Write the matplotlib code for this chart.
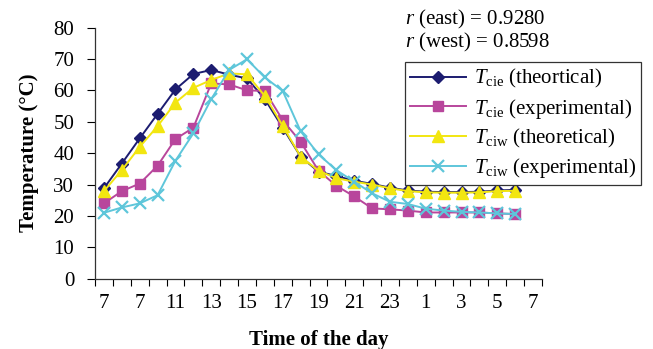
import numpy as np
import matplotlib
matplotlib.use("Agg")
import matplotlib.pyplot as plt

plt.rcParams['font.family'] = ['Liberation Serif', 'DejaVu Serif']
plt.rcParams['mathtext.fontset'] = 'custom'
plt.rcParams['mathtext.rm'] = 'Liberation Serif'
plt.rcParams['mathtext.it'] = 'Liberation Serif:italic'

# x tick labels (every other hour, as printed in the original)
tick_labels = ['7', '7', '11', '13', '15', '17', '19', '21', '23', '1', '3', '5', '7']

# hourly temperatures, 7:00 -> 6:00 next day
t_cie_theo = [28.8, 36.7, 44.7, 52.5, 60.3, 65.2, 66.5, 65.0, 63.8, 57.2, 48.1, 38.9,
              34.1, 32.7, 31.2, 30.2, 29.0, 28.1, 27.7, 27.6, 27.6, 27.7, 28.1, 28.3]
t_cie_exp = [24.0, 27.9, 30.3, 36.0, 44.5, 48.1, 62.2, 61.9, 60.0, 59.8, 50.5, 43.6,
             34.4, 29.6, 26.2, 22.4, 22.1, 21.7, 21.1, 21.1, 21.1, 21.1, 20.8, 20.6]
t_ciw_theo = [27.9, 34.6, 42.0, 48.6, 56.1, 60.8, 63.3, 65.4, 65.1, 58.2, 48.7, 38.9,
              34.4, 32.0, 30.9, 30.0, 28.8, 27.9, 27.5, 27.4, 27.4, 27.5, 27.9, 28.0]
t_ciw_exp = [21.0, 22.7, 24.0, 26.6, 37.6, 46.3, 57.2, 66.5, 69.9, 64.1, 59.8, 47.0,
             39.6, 34.6, 30.9, 27.2, 24.5, 23.8, 22.3, 21.7, 21.3, 21.1, 20.8, 20.6]

x = np.arange(len(t_cie_theo)) + 0.5
fs = 15

fig = plt.figure(figsize=(6.53, 3.49), dpi=100)
ax = fig.add_axes([0.1455, 0.2014, 0.6845, 0.7196])

ax.plot(x, t_cie_theo, color='#1c1c70', marker='D', ms=6, lw=1.4,
        label=r'$T_{\rm cie}$ (theortical)')
ax.plot(x, t_cie_exp, color='#b8469c', marker='s', ms=7, lw=1.4,
        label=r'$T_{\rm cie}$ (experimental)')
ax.plot(x, t_ciw_theo, color='#f2e610', marker='^', ms=8, lw=1.4,
        label=r'$T_{\rm ciw}$ (theoretical)')
ax.plot(x, t_ciw_exp, color='#5ec6da', marker='x', ms=8, mew=1.6, lw=1.4,
        label=r'$T_{\rm ciw}$ (experimental)')

ax.set_xlim(0, 25)
ax.set_ylim(0, 80)
ax.set_yticks(range(0, 81, 10))
ax.set_xticks(range(0, 26))
ax.set_xticklabels([])
ax.set_xticks(np.arange(0.5, 25, 2), minor=True)
ax.set_xticklabels(tick_labels, minor=True)
ax.tick_params(axis='x', which='major', direction='out', length=5, width=0.8)
ax.tick_params(axis='x', which='minor', length=0, pad=11, labelsize=fs)
ax.tick_params(axis='y', direction='out', length=6, width=0.8, labelsize=fs, pad=9)

for s in ['top', 'right']:
    ax.spines[s].set_visible(False)
for s in ['left', 'bottom']:
    ax.spines[s].set_linewidth(0.9)
    ax.spines[s].set_color('#333333')

ax.set_ylabel('Temperature (°C)', fontsize=fs, fontweight='bold', labelpad=10)
ax.set_xlabel('Time of the day', fontsize=fs, fontweight='bold', labelpad=12)

fig.text(0.62, 0.943, r'$r$ (east) = 0.9280', fontsize=fs, va='center')
fig.text(0.62, 0.877, r'$r$ (west) = 0.8598', fontsize=fs, va='center')

leg = ax.legend(loc='upper left', bbox_to_anchor=(0.62, 0.822),
                bbox_transform=fig.transFigure, borderaxespad=0,
                fontsize=fs, handlelength=2.7, handletextpad=0.35,
                labelspacing=0.3, borderpad=0.25, fancybox=False, framealpha=1)
leg.get_frame().set_edgecolor('#333333')
leg.get_frame().set_linewidth(0.9)

fig.savefig('out.png', dpi=100)
